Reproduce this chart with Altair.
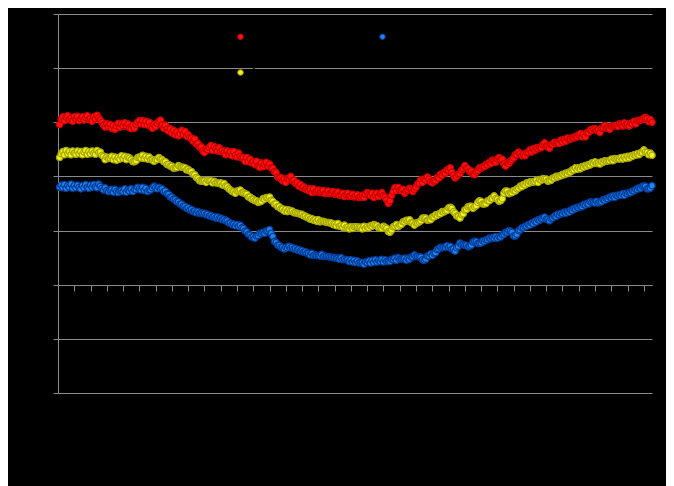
import altair as alt
import pandas as pd

days = list(range(1, 366))

max_temp = [
    29.6, 30.6, 31.0, 30.3, 30.9, 31.2, 30.5, 30.8, 30.2, 31.0,
    30.6, 31.1, 30.3, 30.7, 31.0, 30.4, 30.9, 31.2, 30.5, 30.7,
    30.2, 31.0, 30.6, 31.3, 30.8, 30.4, 30.0, 29.5, 29.1, 29.7,
    29.2, 29.6, 28.9, 29.4, 28.7, 29.3, 29.8, 29.1, 29.7, 29.3,
    29.9, 29.3, 29.7, 29.0, 28.8, 29.4, 28.9, 29.6, 30.0, 30.3,
    29.7, 30.3, 29.6, 30.2, 29.5, 30.0, 29.2, 28.9, 29.6, 29.2,
    29.8, 30.2, 30.4, 29.5, 28.9, 29.5, 28.7, 28.4, 28.8, 28.0,
    28.5, 27.7, 28.2, 27.5, 27.9, 28.5, 27.8, 28.3, 27.4, 27.7,
    27.2, 27.1, 26.5, 26.9, 26.0, 26.1, 25.4, 25.5, 24.7, 24.4,
    25.0, 24.9, 25.4, 25.7, 24.8, 25.5, 25.1, 24.7, 25.3, 24.6,
    24.8, 24.4, 24.0, 24.7, 24.1, 24.5, 23.8, 24.6, 23.9, 23.6,
    24.3, 23.7, 23.4, 23.5, 22.8, 23.5, 22.7, 23.2, 22.5, 22.7,
    22.2, 22.8, 21.9, 21.7, 22.5, 21.8, 22.2, 22.6, 21.9, 22.3,
    21.6, 21.5, 20.9, 20.7, 19.9, 19.7, 19.8, 19.2, 19.5, 18.9,
    19.6, 19.5, 20.0, 19.2, 19.3, 18.7, 18.8, 18.2, 18.5, 17.9,
    18.1, 17.6, 17.7, 17.4, 17.7, 17.0, 17.7, 17.1, 17.2, 17.5,
    17.0, 17.2, 17.4, 16.8, 17.0, 17.3, 16.8, 16.9, 17.2, 16.7,
    16.8, 17.1, 16.5, 16.6, 16.9, 16.3, 16.6, 16.9, 16.3, 16.4,
    16.7, 16.2, 16.3, 16.6, 16.1, 16.2, 16.5, 16.1, 16.7, 17.0,
    16.7, 16.5, 16.9, 16.1, 16.6, 16.9, 16.3, 16.8, 17.0, 16.4,
    16.2, 15.7, 15.0, 15.5, 16.5, 17.2, 17.9, 17.4, 18.0, 17.5,
    17.4, 17.6, 16.9, 17.3, 17.5, 17.8, 17.6, 17.2, 17.6, 18.0,
    18.6, 18.8, 19.4, 18.9, 19.5, 19.3, 19.9, 19.5, 19.0, 18.8,
    19.1, 19.2, 19.8, 19.7, 20.4, 20.2, 20.7, 20.6, 21.2, 21.1,
    21.6, 20.8, 20.2, 19.7, 20.0, 20.4, 20.5, 21.1, 21.4, 22.0,
    21.5, 21.4, 20.9, 21.0, 20.4, 20.3, 20.8, 21.1, 21.6, 21.5,
    21.8, 21.8, 22.2, 22.1, 22.6, 22.4, 23.0, 22.8, 22.6, 23.2,
    23.5, 23.1, 23.2, 22.3, 21.9, 22.5, 22.4, 22.8, 23.1, 23.4,
    24.0, 24.0, 24.5, 24.2, 23.8, 24.1, 23.8, 24.4, 24.5, 24.9,
    24.5, 25.1, 24.8, 25.3, 25.1, 25.4, 25.3, 25.9, 26.2, 25.6,
    25.5, 25.2, 25.9, 25.9, 26.3, 26.1, 26.2, 26.1, 26.7, 26.3,
    26.8, 26.5, 27.1, 26.8, 26.9, 27.2, 27.1, 27.4, 27.3, 27.7,
    27.9, 27.3, 27.8, 27.3, 28.1, 28.1, 28.6, 28.5, 28.8, 28.8,
    28.5, 28.6, 28.1, 28.9, 29.0, 29.4, 28.9, 28.9, 28.7, 29.3,
    29.3, 29.4, 29.4, 29.2, 29.7, 29.6, 29.3, 29.9, 29.5, 29.7,
    29.3, 29.8, 29.7, 30.2, 29.7, 30.3, 30.3, 30.4, 30.5, 30.8,
    30.9, 30.7, 30.1, 30.5, 30.0,
]

mean_temp = [
    23.5, 24.2, 24.6, 24.0, 24.8, 24.2, 24.6, 24.0, 24.7, 24.3,
    24.1, 24.7, 24.2, 24.6, 24.0, 24.5, 24.8, 24.1, 24.6, 24.2,
    24.7, 24.3, 24.1, 24.8, 24.4, 24.5, 23.9, 23.7, 23.1, 23.6,
    23.3, 23.4, 23.7, 23.1, 23.6, 23.0, 23.5, 23.2, 23.8, 23.3,
    23.7, 23.1, 23.6, 23.4, 23.1, 22.7, 22.7, 22.9, 23.5, 23.6,
    23.4, 23.9, 23.3, 23.7, 23.2, 23.6, 23.1, 23.1, 22.8, 23.1,
    23.1, 23.5, 23.2, 23.1, 22.7, 22.7, 22.2, 22.2, 21.9, 21.9,
    21.5, 21.6, 21.6, 22.0, 21.8, 21.7, 21.7, 21.6, 21.2, 21.3,
    21.0, 20.9, 20.4, 20.3, 19.8, 19.6, 19.2, 19.1, 19.1, 19.2,
    18.9, 19.3, 19.2, 19.2, 18.8, 19.1, 18.8, 18.8, 18.7, 18.8,
    18.4, 18.7, 18.2, 18.1, 17.7, 17.5, 17.2, 17.2, 16.9, 17.3,
    17.3, 17.5, 17.0, 17.0, 16.8, 16.7, 16.2, 16.2, 15.8, 15.8,
    15.5, 15.5, 15.2, 15.3, 15.4, 15.9, 15.8, 16.1, 16.0, 16.2,
    15.6, 15.4, 14.9, 14.9, 14.4, 14.4, 14.0, 14.0, 13.6, 13.9,
    13.5, 13.8, 13.6, 13.6, 13.3, 13.3, 13.2, 13.1, 13.0, 13.0,
    12.7, 12.7, 12.4, 12.4, 12.1, 12.2, 11.9, 12.0, 11.7, 12.0,
    11.6, 11.7, 11.7, 11.6, 11.5, 11.5, 11.4, 11.4, 11.1, 11.2,
    10.9, 11.3, 10.8, 10.9, 10.6, 11.0, 10.5, 10.6, 10.3, 10.7,
    10.4, 10.7, 10.7, 10.7, 10.6, 10.6, 10.3, 10.8, 10.4, 10.7,
    10.5, 10.9, 10.8, 11.1, 11.0, 10.9, 10.5, 10.5, 10.4, 10.8,
    10.6, 10.4, 9.8, 9.7, 10.1, 10.7, 10.8, 11.1, 10.7, 11.0,
    11.1, 11.6, 11.6, 11.9, 11.8, 12.0, 11.5, 11.4, 11.0, 11.4,
    11.4, 11.6, 11.8, 12.3, 12.3, 12.3, 11.9, 12.0, 12.0, 12.5,
    12.5, 12.9, 12.8, 13.1, 13.1, 13.5, 13.4, 13.6, 13.7, 14.2,
    14.3, 14.1, 13.5, 13.2, 12.7, 12.6, 12.3, 12.9, 13.1, 13.8,
    13.9, 14.4, 14.5, 14.5, 14.1, 14.4, 14.6, 15.2, 15.5, 15.4,
    14.9, 14.9, 15.0, 15.5, 15.5, 15.9, 15.9, 16.4, 15.9, 15.8,
    15.4, 15.5, 15.9, 16.9, 17.3, 17.3, 16.8, 17.0, 17.0, 17.4,
    17.3, 17.7, 17.8, 18.2, 18.1, 18.5, 18.4, 18.8, 18.7, 19.0,
    18.9, 19.0, 19.0, 19.3, 18.9, 19.4, 19.3, 19.6, 19.5, 19.5,
    19.1, 19.2, 19.3, 19.7, 19.7, 20.0, 19.9, 20.1, 20.1, 20.4,
    20.3, 20.6, 20.5, 20.8, 20.8, 21.2, 21.2, 21.6, 21.3, 21.6,
    21.4, 21.8, 21.7, 22.0, 21.9, 22.2, 22.1, 22.5, 22.4, 22.7,
    22.4, 22.5, 22.3, 22.7, 22.6, 22.9, 22.8, 22.9, 22.9, 23.2,
    22.9, 23.3, 23.2, 23.3, 23.2, 23.5, 23.2, 23.6, 23.3, 23.7,
    23.4, 23.8, 23.7, 24.0, 23.9, 24.2, 24.0, 24.4, 24.4, 24.9,
    24.5, 24.4, 24.0, 24.3, 23.9,
]

min_temp = [
    18.0, 18.4, 17.9, 18.5, 17.8, 18.3, 18.0, 18.6, 17.8, 18.3,
    17.9, 18.4, 18.0, 17.7, 18.3, 17.9, 18.5, 18.0, 17.8, 18.4,
    18.0, 18.5, 18.1, 17.9, 18.6, 18.2, 17.8, 17.5, 17.9, 17.4,
    17.2, 17.5, 17.6, 17.1, 17.6, 17.2, 17.0, 17.3, 17.4, 17.2,
    17.7, 17.1, 17.5, 17.3, 17.7, 17.2, 17.6, 17.6, 18.0, 17.7,
    17.5, 18.0, 17.4, 17.8, 17.2, 17.5, 17.5, 17.9, 18.2, 17.9,
    17.7, 18.0, 17.7, 17.7, 17.2, 17.3, 16.8, 16.7, 16.2, 16.2,
    15.8, 15.7, 15.3, 15.3, 14.9, 14.9, 14.5, 14.5, 14.1, 14.2,
    13.8, 13.9, 13.5, 13.6, 13.3, 13.5, 13.2, 13.3, 13.1, 13.2,
    12.9, 13.0, 12.7, 12.8, 12.5, 12.6, 12.3, 12.5, 12.2, 12.3,
    12.0, 12.1, 11.8, 11.8, 11.4, 11.4, 11.1, 11.2, 10.9, 11.1,
    10.8, 11.0, 10.5, 10.4, 9.9, 9.8, 9.3, 9.2, 8.8, 8.9,
    8.6, 9.0, 9.1, 9.5, 9.4, 9.7, 9.5, 9.9, 9.9, 10.2,
    9.5, 8.9, 8.0, 7.8, 7.3, 7.3, 6.9, 6.9, 6.6, 6.9,
    6.8, 7.1, 6.8, 6.9, 6.6, 6.7, 6.4, 6.5, 6.2, 6.3,
    6.0, 6.1, 5.8, 5.8, 5.5, 5.8, 5.4, 5.5, 5.4, 5.4,
    5.3, 5.6, 5.2, 5.3, 5.2, 5.2, 5.1, 5.1, 5.0, 5.0,
    4.9, 4.9, 4.7, 5.0, 4.6, 4.7, 4.6, 4.6, 4.3, 4.6,
    4.2, 4.5, 4.1, 4.4, 4.0, 4.1, 4.1, 3.8, 4.2, 4.1,
    4.4, 4.0, 4.5, 4.1, 4.6, 4.2, 4.5, 4.3, 4.7, 4.2,
    4.6, 4.3, 4.3, 4.3, 4.7, 4.6, 4.9, 4.5, 5.0, 4.7,
    4.8, 4.8, 4.9, 4.5, 4.9, 4.7, 5.1, 5.1, 5.5, 5.2,
    5.2, 5.1, 5.1, 4.6, 4.5, 4.7, 5.3, 5.3, 5.7, 5.4,
    5.8, 5.9, 6.5, 6.6, 6.9, 6.8, 6.9, 6.9, 7.2, 6.9,
    7.1, 6.6, 6.6, 6.2, 6.8, 7.1, 7.7, 7.4, 7.4, 7.3,
    7.3, 7.0, 7.1, 7.3, 7.9, 8.0, 8.0, 7.6, 7.7, 7.7,
    8.1, 8.0, 8.3, 8.3, 8.6, 8.5, 8.7, 8.6, 8.9, 8.6,
    8.9, 8.8, 9.2, 9.3, 9.7, 9.7, 10.0, 9.9, 9.7, 9.0,
    9.0, 9.3, 10.0, 10.1, 10.5, 10.5, 10.8, 10.8, 11.1, 11.0,
    11.4, 11.3, 11.7, 11.6, 12.0, 11.9, 12.2, 12.2, 12.5, 12.1,
    12.1, 11.8, 12.2, 12.3, 12.7, 12.6, 13.0, 12.9, 13.2, 13.1,
    13.4, 13.2, 13.5, 13.4, 13.8, 13.7, 14.1, 14.0, 14.3, 14.2,
    14.5, 14.4, 14.8, 14.7, 15.0, 14.9, 15.3, 15.2, 15.2, 15.1,
    15.4, 15.1, 15.3, 15.3, 15.7, 15.6, 15.9, 15.9, 16.2, 16.1,
    16.4, 16.1, 16.5, 16.4, 16.6, 16.5, 16.8, 16.5, 16.9, 16.8,
    17.0, 17.0, 17.3, 17.3, 17.6, 17.6, 17.9, 17.8, 18.2, 18.2,
    18.2, 17.7, 17.7, 17.8, 18.3,
]

series_names = ["Maximum", "Minimum", "Average"]
fill_colors = ["#ff1414", "#1f86e6", "#f2f21e"]
stroke_colors = ["#cc0000", "#003c9c", "#a6a600"]
x_ticks = list(range(0, 361, 10))
y_ticks = list(range(-20, 51, 10))

df = pd.concat([
    pd.DataFrame({"day": days, "temp": max_temp, "series": "Maximum"}),
    pd.DataFrame({"day": days, "temp": min_temp, "series": "Minimum"}),
    pd.DataFrame({"day": days, "temp": mean_temp, "series": "Average"}),
])

grid_col = "#8a8a8a"

legend = alt.Legend(
    title=None, orient="none", legendX=177, legendY=17, direction="horizontal",
    columns=2, columnPadding=79, rowPadding=24, symbolType="circle", symbolSize=30,
    symbolStrokeWidth=1, labelColor="#000000", labelFont="Liberation Sans",
    labelFontSize=11, padding=0,
)

chart = alt.Chart(df).mark_point(filled=True, opacity=1, size=40, strokeWidth=1.3).encode(
    x=alt.X("day:Q", title="Day of year",
            scale=alt.Scale(domain=[0, 365], nice=False, zero=False),
            axis=alt.Axis(values=x_ticks, offset=-108, grid=False, tickSize=6,
                          tickColor=grid_col, domainColor=grid_col, labelColor="#000000",
                          titleColor="#000000", labelFontSize=9)),
    y=alt.Y("temp:Q", title="Temperature (°C)",
            scale=alt.Scale(domain=[-20, 50], nice=False),
            axis=alt.Axis(values=y_ticks, grid=True, gridColor=grid_col, tickSize=5,
                          tickColor=grid_col, domainColor=grid_col, labelColor="#000000",
                          titleColor="#000000")),
    fill=alt.Fill("series:N", scale=alt.Scale(domain=series_names, range=fill_colors), legend=legend),
    stroke=alt.Stroke("series:N", scale=alt.Scale(domain=series_names, range=stroke_colors), legend=legend),
    order=alt.Order("series:N"),
).properties(
    width=594, height=379,
    autosize=alt.AutoSizeParams(type="none"),
    padding={"left": 50, "top": 6, "right": 14, "bottom": 93},
    background="#000000",
).configure_view(stroke="transparent")

chart.save("out.html", embed_options={"renderer": "svg", "actions": False})
